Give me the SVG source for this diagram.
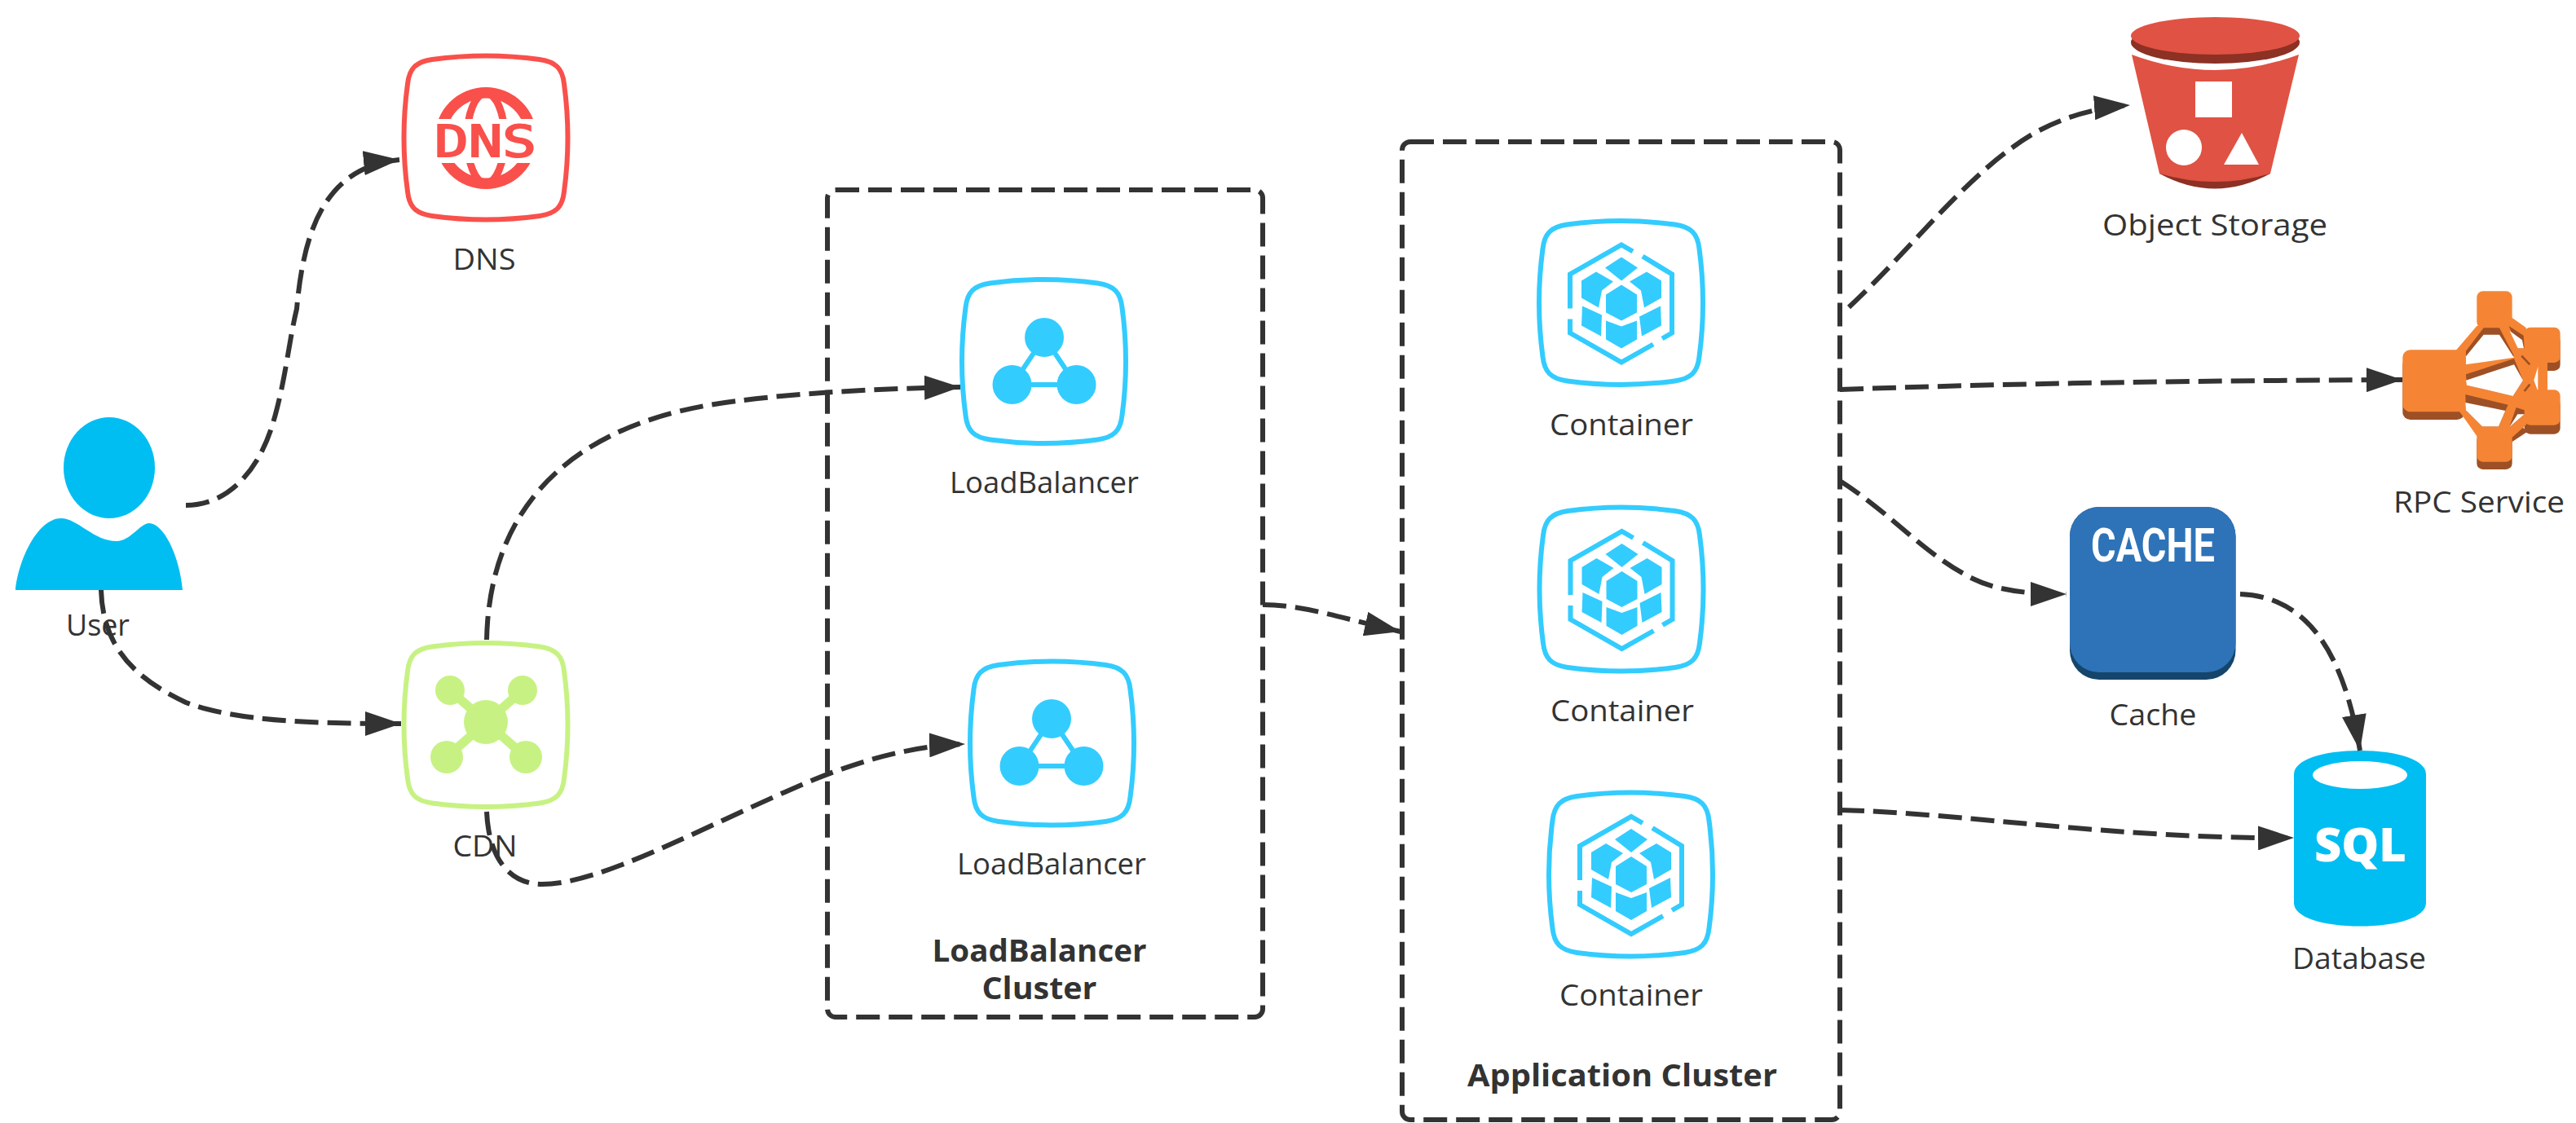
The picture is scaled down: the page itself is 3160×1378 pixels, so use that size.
<svg xmlns="http://www.w3.org/2000/svg" width="3160" height="1378" viewBox="0 0 3160 1378">
<style>
.lbl{font-family:"Open Sans","Liberation Sans",sans-serif;font-size:37px;fill:#333;text-anchor:middle}
.ttl{font-family:"Open Sans","Liberation Sans",sans-serif;font-size:37px;font-weight:700;fill:#333;text-anchor:middle}
.edge{fill:none;stroke:#333;stroke-width:6;stroke-dasharray:29 11;marker-end:url(#arrow)}
.cluster{fill:none;stroke:#333;stroke-width:6;stroke-dasharray:29 11}
.sq{fill:#fff;stroke-width:6}
.blue{fill:#33ccff}
.hexline{fill:none;stroke:#33ccff;stroke-width:6}
</style>
<defs>
<marker id="arrow" markerUnits="userSpaceOnUse" markerWidth="44" markerHeight="30" viewBox="0 0 44 30" refX="44" refY="15" orient="auto"><polygon points="0,0 44,15 0,30" fill="#333"/></marker>
<path id="squircle" d="M-66,-96 Q0,-105 66,-96 C86,-93 94,-85 96,-66 Q105,0 96,66 C94,85 86,93 66,96 Q0,105 -66,96 C-86,93 -94,85 -96,66 Q-105,0 -96,-66 C-94,-85 -86,-93 -66,-96 Z"/>
<g id="lbglyph">
<path class="hexline" d="M0,-29 L-39,29 L39,29 Z"/>
<circle class="blue" cx="0" cy="-29" r="24"/><circle class="blue" cx="-39.500" cy="29" r="24"/><circle class="blue" cx="39.500" cy="29" r="24"/>
</g>
<g id="cube">
<path class="hexline" d="M-63,6 V-36 L0,-72 L14,-64 M26,-58 L62,-36 V36 L50,43 M39,50 L0,72 L-63,36 V19"/>
<polygon class="blue" points="0,-57 20,-44 0,-28 -20,-44"/>
<polygon class="blue" points="-49,-28 -31,-39 -10,-27 -24,-16 -28,5 -49,-7"/>
<polygon class="blue" points="10,-27 31,-39 49,-28 49,-7 28,5 24,-16"/>
<polygon class="blue" points="0,-23 19,-11 19,11 0,21 -19,11 -19,-11"/>
<polygon class="blue" points="-48,3 -24,14 -25,40 -49,27"/>
<polygon class="blue" points="48,3 22,16 25,40 49,27"/>
<polygon class="blue" points="-19,21 0,28 19,21 19,44 0,55 -19,44"/>
</g>
<clipPath id="dnsclip"><rect x="530" y="100" width="132" height="46"/><rect x="530" y="200" width="132" height="40"/></clipPath>
</defs>
<rect width="3160" height="1378" fill="#fff"/>

<g id="lb-cluster">
<rect class="cluster" x="1015" y="233" width="534" height="1015" rx="10"/>
<text class="ttl" x="1275" y="1180" textLength="263" lengthAdjust="spacingAndGlyphs">LoadBalancer</text>
<text class="ttl" x="1275" y="1226" textLength="141" lengthAdjust="spacingAndGlyphs">Cluster</text>
</g>
<g id="app-cluster">
<rect class="cluster" x="1720" y="174" width="537" height="1200" rx="10"/>
<text class="ttl" x="1990" y="1333" textLength="380" lengthAdjust="spacingAndGlyphs">Application Cluster</text>
</g>

<g id="user">
<ellipse cx="134" cy="574" rx="56" ry="62" fill="#00bef2"/>
<path d="M19,724 C22,690 45,636 75,636 C95,636 115,664 143,664 C160,664 172,642 183,642 C200,642 220,680 224,724 Z" fill="#00bef2"/>
<text class="lbl" x="120" y="780" textLength="78" lengthAdjust="spacingAndGlyphs">User</text>
</g>

<g id="dns">
<use href="#squircle" class="sq" stroke="#f9504b" transform="translate(596,169)"/>
<g clip-path="url(#dnsclip)">
<circle cx="596" cy="169.500" r="62.500" fill="#f9504b"/>
<circle cx="596" cy="169.500" r="49" fill="#fff"/>
<ellipse cx="596" cy="169.500" rx="23" ry="55" fill="none" stroke="#f9504b" stroke-width="9"/>
</g>
<text x="595.500" y="192" font-family="'DejaVu Sans Mono',monospace" font-size="54" fill="#f9504b" stroke="#f9504b" stroke-width="2" text-anchor="middle" textLength="125" lengthAdjust="spacingAndGlyphs">DNS</text>
<text class="lbl" x="594" y="331" textLength="77" lengthAdjust="spacingAndGlyphs">DNS</text>
</g>

<g id="cdn">
<use href="#squircle" class="sq" stroke="#c7f283" transform="translate(596,889.500)"/>
<g stroke="#c7f283" stroke-width="11"><line x1="552" y1="847" x2="645" y2="929"/><line x1="641" y1="847" x2="548" y2="929"/></g>
<g fill="#c7f283"><circle cx="596" cy="886" r="27"/><circle cx="552" cy="847" r="18"/><circle cx="641" cy="847" r="18"/><circle cx="548" cy="929" r="20"/><circle cx="645" cy="929" r="20"/></g>
<text class="lbl" x="595" y="1051" textLength="79" lengthAdjust="spacingAndGlyphs">CDN</text>
</g>

<g id="lb1">
<use href="#squircle" class="sq" stroke="#33ccff" transform="translate(1280.500,443.500)"/>
<use href="#lbglyph" transform="translate(1281,443)"/>
<text class="lbl" x="1281" y="605" textLength="232" lengthAdjust="spacingAndGlyphs">LoadBalancer</text>
</g>
<g id="lb2">
<use href="#squircle" class="sq" stroke="#33ccff" transform="translate(1290.500,912)"/>
<use href="#lbglyph" transform="translate(1290,911)"/>
<text class="lbl" x="1290" y="1073" textLength="232" lengthAdjust="spacingAndGlyphs">LoadBalancer</text>
</g>

<g id="container1">
<use href="#squircle" class="sq" stroke="#33ccff" transform="translate(1988.500,371.500)"/>
<use href="#cube" transform="translate(1989,372.500)"/>
<text class="lbl" x="1989" y="534" textLength="176" lengthAdjust="spacingAndGlyphs">Container</text>
</g>
<g id="container2">
<use href="#squircle" class="sq" stroke="#33ccff" transform="translate(1989,723)"/>
<use href="#cube" transform="translate(1989.500,724)"/>
<text class="lbl" x="1990" y="885" textLength="176" lengthAdjust="spacingAndGlyphs">Container</text>
</g>
<g id="container3">
<use href="#squircle" class="sq" stroke="#33ccff" transform="translate(2000.500,1073)"/>
<use href="#cube" transform="translate(2001,1074)"/>
<text class="lbl" x="2001" y="1234" textLength="176" lengthAdjust="spacingAndGlyphs">Container</text>
</g>

<g id="object-storage">
<path d="M2649,213 Q2717,250 2785,213 Z" fill="#8c3123"/>
<path d="M2615,67 Q2717,105 2820,67 L2785,213 Q2717,233 2649,213 Z" fill="#e05243"/>
<ellipse cx="2717.500" cy="52" rx="103.500" ry="26" fill="#8c3123"/>
<ellipse cx="2717.500" cy="44" rx="103.500" ry="23" fill="#e05243"/>
<rect x="2693" y="100" width="45" height="44" fill="#fff"/>
<circle cx="2679" cy="181" r="22" fill="#fff"/>
<polygon points="2750,163 2771,202 2728,202" fill="#fff"/>
<text class="lbl" x="2717" y="289" textLength="276" lengthAdjust="spacingAndGlyphs">Object Storage</text>
</g>

<g id="rpc-service">
<g transform="translate(2930,340) scale(.3333)">
<g fill="#9d5025">
<rect x="52" y="295" width="228" height="230" rx="28"/><rect x="500" y="215" width="132" height="130" rx="22"/><rect x="500" y="448" width="132" height="130" rx="22"/><rect x="325" y="578" width="130" height="130" rx="22"/>
<polygon points="260,500 345,580 450,610 510,570 400,450"/>
</g>
<g fill="#f58534">
<polygon points="250,268 325,180 455,150 505,185 550,315 585,315 585,415 505,545 455,590 325,585 265,500 150,400"/>
<rect x="52" y="268" width="228" height="228" rx="28"/><rect x="325" y="52" width="130" height="135" rx="22"/><rect x="500" y="185" width="132" height="130" rx="22"/><rect x="500" y="415" width="132" height="130" rx="22"/><rect x="325" y="550" width="130" height="130" rx="22"/>
</g>
<g fill="#9d5025">
<polygon points="350,187 408,187 462,290 285,322 285,272"/>
<polygon points="285,358 462,300 495,380 458,438 288,398"/>
<polygon points="283,432 440,470 405,550 345,550 285,490"/>
<polygon points="443,180 497,215 500,262 476,262"/>
<polygon points="470,480 500,490 500,505 445,552"/>
<path d="M490,290 L520,322 M500,420 L520,395" fill="none" stroke="#9d5025" stroke-width="8"/>
</g>
<g fill="#fff">
<polygon points="350,212 408,212 462,296 285,322 285,292"/>
<polygon points="285,380 462,322 495,380 458,438 288,398"/>
<polygon points="283,462 430,492 405,550 345,550 285,490"/>
<polygon points="446,198 492,232 498,262 476,262"/>
<polygon points="475,505 500,505 445,552"/>
<polygon points="550,330 535,380 548,415 550,415"/>
</g>
</g>
<text class="lbl" x="3041" y="629" textLength="210" lengthAdjust="spacingAndGlyphs">RPC Service</text>
</g>

<g id="cache">
<rect x="2539" y="622" width="203.500" height="212" rx="36" fill="#15456b"/>
<rect x="2539" y="622" width="203.500" height="203" rx="36" fill="#2e73b8"/>
<text x="2641" y="689" font-family="Roboto,'Liberation Sans',sans-serif" font-weight="700" font-size="58" fill="#fff" text-anchor="middle" textLength="152" lengthAdjust="spacingAndGlyphs">CACHE</text>
<text class="lbl" x="2641" y="890" textLength="107" lengthAdjust="spacingAndGlyphs">Cache</text>
</g>

<g id="database">
<path d="M2814,950 C2814,932 2850,921 2895,921 C2940,921 2976,932 2976,950 V1108 C2976,1126 2940,1136.500 2895,1136.500 C2850,1136.500 2814,1126 2814,1108 Z" fill="#00bef2"/>
<ellipse cx="2895" cy="951" rx="58" ry="17" fill="#fff"/>
<text x="2895.500" y="1057" font-family="'Open Sans','Liberation Sans',sans-serif" font-weight="800" font-size="56" fill="#fff" text-anchor="middle" textLength="113" lengthAdjust="spacingAndGlyphs">SQL</text>
<text class="lbl" x="2894" y="1189" textLength="164" lengthAdjust="spacingAndGlyphs">Database</text>
</g>

<g id="connectors">
<path class="edge" d="M228,620 C282,620 318,574 334,522 C350,470 354,420 364,379 C372,290 395,205 490,196"/>
<path class="edge" d="M124,724 C126,790 160,830 228,862 C290,885 380,888 492,888"/>
<path class="edge" d="M597,785 C600,640 680,530 870,497 C950,484 1060,477 1178,475"/>
<path class="edge" d="M597,996 C600,1060 630,1085 665,1085 C740,1085 870,1010 1000,956 C1060,932 1120,915 1184,913"/>
<path class="edge" d="M1549,742 C1600,742 1650,760 1718,775"/>
<path class="edge" d="M2268,377 C2340,310 2400,230 2470,180 C2510,150 2560,133 2613,129"/>
<path class="edge" d="M2257,478 C2480,470 2700,467 2947,466"/>
<path class="edge" d="M2257,590 C2320,630 2360,680 2420,710 C2450,725 2490,729 2535,729"/>
<path class="edge" d="M2748,729 C2830,732 2875,800 2895,921"/>
<path class="edge" d="M2258,994 C2400,997 2600,1030 2814,1028"/>
</g>
</svg>
